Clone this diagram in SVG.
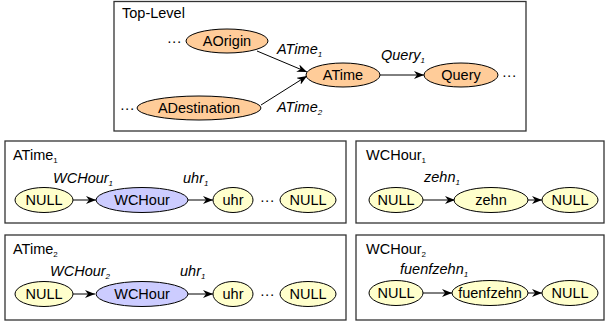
<svg xmlns="http://www.w3.org/2000/svg" width="607" height="325" viewBox="0 0 607 325">
<defs>
<style>
text{font-family:"Liberation Sans",Arial,sans-serif;font-size:14.5px;fill:#000}
.c{text-anchor:middle}
.i{font-style:italic}
.s{font-size:8px}
.box{fill:#fff;stroke:#333;stroke-width:1.3}
.o{fill:#FFCC99;stroke:#000;stroke-width:1}
.y{fill:#FFFFCC;stroke:#000;stroke-width:1}
.v{fill:#CCCCFF;stroke:#000;stroke-width:1}
.e{fill:none;stroke:#000;stroke-width:1;marker-end:url(#ah)}
</style>
<marker id="ah" viewBox="0 0 10 8" refX="10" refY="4" markerWidth="10" markerHeight="8" markerUnits="userSpaceOnUse" orient="auto">
<path d="M0,0 L10,4 L0,8 L3,4 Z" fill="#000"/>
</marker>
</defs>

<g id="frames">
<rect class="box" x="114" y="1.5" width="412" height="129.5"/>
<rect class="box" x="5" y="141" width="341" height="82"/>
<rect class="box" x="356" y="141" width="248" height="82"/>
<rect class="box" x="5" y="235" width="341" height="85"/>
<rect class="box" x="356" y="235" width="248" height="85"/>
<text x="122" y="18">Top-Level</text>
<text x="13" y="160">ATime<tspan class="s" dy="3">1</tspan></text>
<text x="366" y="160">WCHour<tspan class="s" dy="3">1</tspan></text>
<text x="13" y="254">ATime<tspan class="s" dy="3">2</tspan></text>
<text x="366" y="254">WCHour<tspan class="s" dy="3">2</tspan></text>
</g>

<g id="connectors">
<path class="e" d="M257,51 L307,72"/>
<path class="e" d="M261,105 L307,76"/>
<path class="e" d="M380,75 L424,75"/>
<path class="e" d="M73,200 L96,200"/>
<path class="e" d="M188,200 L213,200"/>
<path class="e" d="M73,294 L95,294"/>
<path class="e" d="M188,294 L213,294"/>
<path class="e" d="M423,200 L455,200"/>
<path class="e" d="M528,200 L542,200"/>
<path class="e" d="M423,293 L452,293"/>
<path class="e" d="M528,293 L542,293"/>
</g>

<g id="edge-labels">
<text class="i" x="277" y="54">ATime<tspan class="s" dy="3">1</tspan></text>
<text class="i" x="277" y="112">ATime<tspan class="s" dy="3">2</tspan></text>
<text class="i" x="381" y="60">Query<tspan class="s" dy="3">1</tspan></text>
<text class="i" x="53" y="183">WCHour<tspan class="s" dy="3">1</tspan></text>
<text class="i" x="183" y="183">uhr<tspan class="s" dy="3">1</tspan></text>
<text class="i" x="50" y="276">WCHour<tspan class="s" dy="3">2</tspan></text>
<text class="i" x="180" y="276">uhr<tspan class="s" dy="3">1</tspan></text>
<text class="i" x="424" y="182">zehn<tspan class="s" dy="3">1</tspan></text>
<text class="i" x="400" y="274">fuenfzehn<tspan class="s" dy="3">1</tspan></text>
</g>

<g id="dots">
<text x="167" y="46">···</text>
<text x="120" y="113">···</text>
<text x="502" y="80">···</text>
<text x="260" y="205">···</text>
<text x="260" y="299">···</text>
</g>

<g id="AOrigin"><ellipse class="o" cx="227" cy="41" rx="41" ry="12"/><text class="c" x="227" y="46">AOrigin</text></g>
<g id="ADestination"><ellipse class="o" cx="199" cy="108" rx="62" ry="12"/><text class="c" x="199" y="113">ADestination</text></g>
<g id="ATime"><ellipse class="o" cx="343" cy="75" rx="37" ry="12"/><text class="c" x="343" y="80">ATime</text></g>
<g id="Query"><ellipse class="o" cx="461" cy="75" rx="37" ry="12"/><text class="c" x="461" y="80">Query</text></g>

<g id="a1-null1"><ellipse class="y" cx="44" cy="200" rx="29" ry="12.5"/><text class="c" x="44" y="205">NULL</text></g>
<g id="a1-wchour"><ellipse class="v" cx="142" cy="200" rx="46" ry="12.5"/><text class="c" x="142" y="205">WCHour</text></g>
<g id="a1-uhr"><ellipse class="y" cx="233" cy="200" rx="20" ry="12.5"/><text class="c" x="233" y="205">uhr</text></g>
<g id="a1-null2"><ellipse class="y" cx="308" cy="200" rx="28" ry="12.5"/><text class="c" x="308" y="205">NULL</text></g>

<g id="a2-null1"><ellipse class="y" cx="44" cy="294" rx="29" ry="12.5"/><text class="c" x="44" y="299">NULL</text></g>
<g id="a2-wchour"><ellipse class="v" cx="142" cy="294" rx="46" ry="12.5"/><text class="c" x="142" y="299">WCHour</text></g>
<g id="a2-uhr"><ellipse class="y" cx="233" cy="294" rx="20" ry="12.5"/><text class="c" x="233" y="299">uhr</text></g>
<g id="a2-null2"><ellipse class="y" cx="308" cy="294" rx="28" ry="12.5"/><text class="c" x="308" y="299">NULL</text></g>

<g id="w1-null1"><ellipse class="y" cx="396" cy="200" rx="27" ry="12.5"/><text class="c" x="396" y="205">NULL</text></g>
<g id="w1-zehn"><ellipse class="y" cx="491" cy="200" rx="37" ry="12.5"/><text class="c" x="491" y="205">zehn</text></g>
<g id="w1-null2"><ellipse class="y" cx="570" cy="200" rx="28" ry="12.5"/><text class="c" x="570" y="205">NULL</text></g>

<g id="w2-null1"><ellipse class="y" cx="396" cy="293" rx="27" ry="12.5"/><text class="c" x="396" y="298">NULL</text></g>
<g id="w2-fuenfzehn"><ellipse class="y" cx="490" cy="293" rx="38" ry="12.5"/><text class="c" x="490" y="298">fuenfzehn</text></g>
<g id="w2-null2"><ellipse class="y" cx="570" cy="293" rx="28" ry="12.5"/><text class="c" x="570" y="298">NULL</text></g>
</svg>
